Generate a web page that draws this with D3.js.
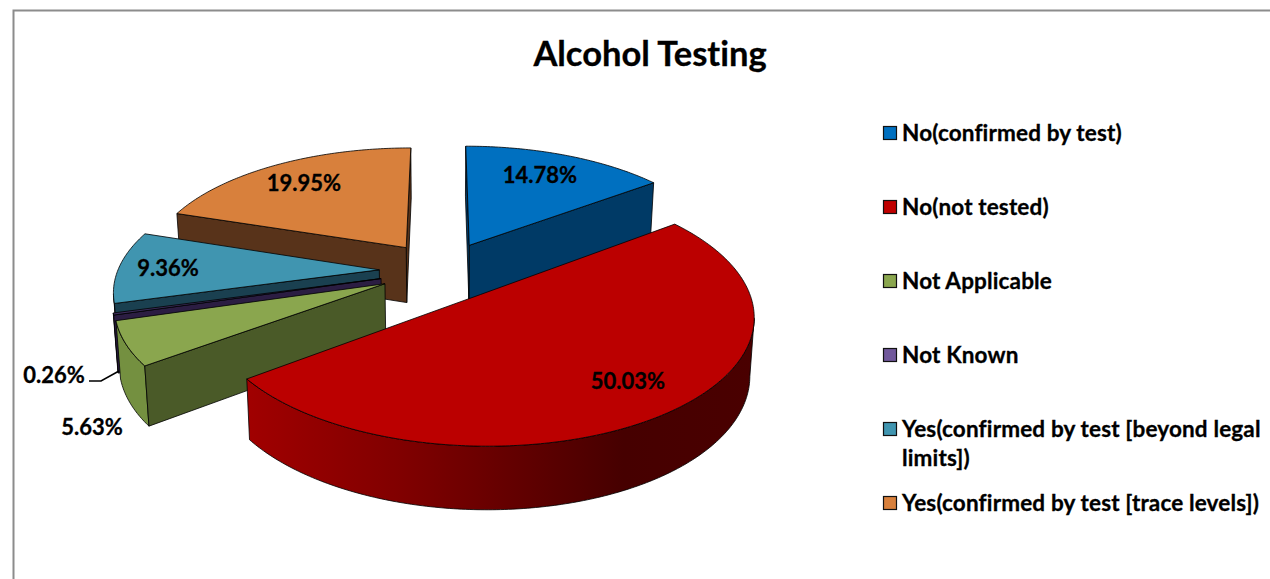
<!DOCTYPE html>
<html><head><meta charset="utf-8">
<script src="https://cdnjs.cloudflare.com/ajax/libs/d3/7.8.5/d3.min.js"></script>
<style>html,body{margin:0;padding:0;background:#fff}svg{display:block}text{font-family:Lato,"Open Sans",sans-serif;font-weight:700;fill:#000;stroke:#000;stroke-width:.3px;font-variant-ligatures:none}</style>
</head><body><svg id="c" width="1270" height="579"></svg>
<script>
const categories = ["No(confirmed by test)","No(not tested)","Not Applicable","Not Known","Yes(confirmed by test [beyond legal limits])","Yes(confirmed by test [trace levels])"];
const values = [14.78,50.03,5.63,0.26,9.36,19.95];
const topColors = ["#0070c0","#bb0000","#8aa64e","#3d2c5c","#4095b0","#d8803c"];
const faceColors = ["#003a66","#7a0000","#4a5a28","#2b1d42","#1a4050","#58331a"];
const rimColors = ["#003a66","url(#redRim)","#749040","#241838","#1a4050","#58331a"];
const legendColors = ["#0070c0","#c00000","#8aa64e","#71589b","#4095b0","#d8803c"];
const paintOrder = [5,0,4,3,2,1];
const title = "Alcohol Testing";

// perspective model of the tilted pie
const k = 0.15, kDepth = 0.10, depth = 56, explode = 0.24, shrink = 0.014;
const xS = d3.scaleLinear().domain([0,1]).range([442,703.5]);
const yS = d3.scaleLinear().domain([0,1]).range([270.5,149.5]);
const project = (X,Y,low) => {
  const den = 1 + k*Y;
  const x = xS(X/den), y = yS(Y/den);
  return low ? [xS(0)+(x-xS(0))*(1-shrink), y + depth/(1+kDepth*Y)] : [x,y];
};
const svg = d3.select("#c");
const defs = svg.append("defs");
const rim = defs.append("linearGradient").attr("id","redRim").attr("gradientUnits","userSpaceOnUse")
  .attr("x1",250).attr("x2",755).attr("y1",0).attr("y2",0);
[[0,"#a00000"],[.3,"#800000"],[.62,"#560000"],[.74,"#460000"],[1,"#4a0000"]]
  .forEach(s=>rim.append("stop").attr("offset",s[0]).attr("stop-color",s[1]));

// frame
svg.append("path").attr("d","M13.5 579V10.5H1270").attr("fill","none").attr("stroke","#8c8c8c").attr("stroke-width",2);

const arcs = d3.pie().sort(null).value(d=>d)(values);
const line = d3.line().curve(d3.curveLinear);
const poly = pts => line(pts)+"Z";
const lineStroke = s => s.attr("stroke","#000").attr("stroke-width",.8).attr("stroke-linejoin","round");
const layer = svg.append("g");

paintOrder.forEach(i=>{
  const a = arcs[i], mid = (a.startAngle+a.endAngle)/2;
  const Xa = explode*Math.sin(mid), Ya = explode*Math.cos(mid);
  const rimP = (t,low)=>project(Xa+Math.sin(t),Ya+Math.cos(t),low);
  const apexT = project(Xa,Ya,false), apexB = project(Xa,Ya,true);
  const n = Math.max(2,Math.ceil((a.endAngle-a.startAngle)*80));
  const ts = d3.range(n+1).map(j=>a.startAngle+(a.endAngle-a.startAngle)*j/n);
  const D = 1/k;
  // cut faces that look at the camera
  const startVis = -Xa*Math.cos(a.startAngle)+(Ya+D)*Math.sin(a.startAngle) < 0;
  const endVis = Xa*Math.cos(a.endAngle)-(Ya+D)*Math.sin(a.endAngle) < 0;
  const face = t => lineStroke(layer.append("path")
    .attr("d",poly([apexT,rimP(t,false),rimP(t,true),apexB])).attr("fill",faceColors[i]));
  if(endVis) face(a.endAngle);
  // outer wall: only the part turned to the viewer
  const vis = ts.filter(t=>1+Xa*Math.sin(t)+(Ya+D)*Math.cos(t)<0);
  if(vis.length>1){
    lineStroke(layer.append("path")
      .attr("d",poly(vis.map(t=>rimP(t,false)).concat(vis.slice().reverse().map(t=>rimP(t,true)))))
      .attr("fill",rimColors[i]));
  }
  if(startVis) face(a.startAngle);
  lineStroke(layer.append("path")
    .attr("d",poly([apexT].concat(ts.map(t=>rimP(t,false))))).attr("fill",topColors[i]));
});

// title
svg.append("text").attr("x",650).attr("y",66).attr("text-anchor","middle").attr("font-size",34.5).text(title);

// data labels
const labelAt = [[540,175],[628,381],[92,427],[54,375],[168,268],[304,183]];
const fmt = d3.format(".2f");
values.forEach((v,i)=>svg.append("text").attr("x",labelAt[i][0]).attr("y",labelAt[i][1]+7.5)
  .attr("text-anchor","middle").attr("font-size",22).text(fmt(v)+"%"));
svg.append("path").attr("d","M89 381H101L119 371").attr("fill","none").attr("stroke","#000").attr("stroke-width",1.5);

// legend
const rowY = d3.scalePoint().domain(d3.range(5)).range([133,429]);
const legendRows = categories.map((c,i)=>({c,i,y:i<5?rowY(i):503,lines:i===4?["Yes(confirmed by test [beyond legal","limits])"]:[c]}));
const lg = svg.append("g").selectAll("g").data(legendRows).join("g");
lg.append("rect").attr("x",883.5).attr("y",d=>d.y-6.5).attr("width",13).attr("height",13)
  .attr("fill",d=>legendColors[d.i]).attr("stroke","#111").attr("stroke-width",1.2);
lg.each(function(d){
  d.lines.forEach((t,j)=>d3.select(this).append("text").attr("x",902).attr("y",d.y+8+j*29).attr("font-size",22.5).attr("letter-spacing",.15).text(t));
});
</script></body></html>
